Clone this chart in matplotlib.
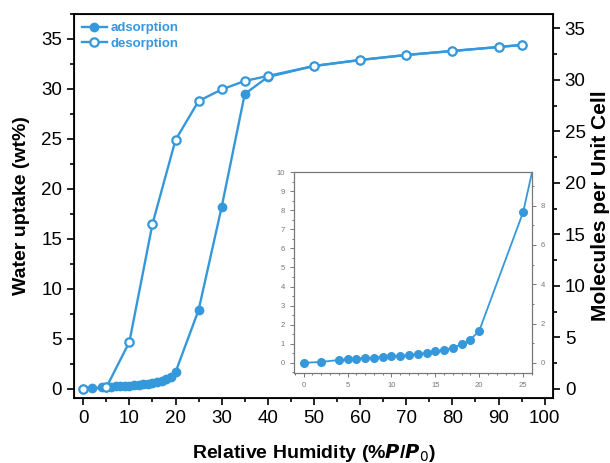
import matplotlib.pyplot as plt
import numpy as np
from matplotlib.ticker import MultipleLocator

plt.rcParams['font.family'] = ['Liberation Sans', 'DejaVu Sans']

# adsorption isotherm (wt%)
rh_ads = [0, 2, 4, 5, 6, 7, 8, 9, 10, 11, 12, 13, 14, 15, 16, 17, 18, 19, 20,
          25, 30, 35, 40, 50, 60, 70, 80, 90, 95]
wt_ads = [0.0, 0.05, 0.15, 0.18, 0.22, 0.25, 0.28, 0.31, 0.34, 0.37, 0.41, 0.46,
          0.52, 0.60, 0.68, 0.80, 0.97, 1.22, 1.68,
          7.9, 18.2, 29.5, 31.2, 32.3, 32.9, 33.4, 33.8, 34.2, 34.4]

# desorption isotherm (wt%)
rh_des = [95, 90, 80, 70, 60, 50, 40, 35, 30, 25, 20, 15, 10, 5, 0]
wt_des = [34.4, 34.2, 33.8, 33.4, 32.9, 32.3, 31.3, 30.8, 29.95, 28.8, 24.9,
          16.5, 4.7, 0.15, 0.0]

azul = '#3598DB'
wt_por_molecula = 1.03  # wt% per molecule / unit cell

fig = plt.figure(figsize=(6.1, 4.63), dpi=100)
ax = fig.add_axes([0.1213, 0.1404, 0.7853, 0.8294])

ax.plot(rh_ads, wt_ads, '-o', color=azul, lw=1.7, ms=6, label='adsorption', zorder=3)
ax.plot(rh_des, wt_des, '-o', color=azul, lw=1.7, ms=6, mfc='white', mew=1.6,
        label='desorption', zorder=4)

ax.set_xlim(-2, 101.8)
ax.set_ylim(-0.9, 37.5)
ax.xaxis.set_major_locator(MultipleLocator(10))
ax.xaxis.set_minor_locator(MultipleLocator(5))
ax.yaxis.set_major_locator(MultipleLocator(5))
ax.yaxis.set_minor_locator(MultipleLocator(2.5))
ax.tick_params(which='both', direction='out', labelsize=13.5, width=1.2, top=False, right=False)
ax.tick_params(which='major', length=5)
ax.tick_params(which='minor', length=3)
for s in ax.spines.values():
    s.set_linewidth(1.3)
ax.set_xlabel('Relative Humidity (%$\\mathbfit{P}$/$\\mathbfit{P}_0$)', fontsize=14,
              fontweight='bold', labelpad=11)
ax.set_ylabel('Water uptake (wt%)', fontsize=14, fontweight='bold', labelpad=8)

leg = ax.legend(loc='upper left', frameon=False, handlelength=1.9,
                handletextpad=0.3, borderaxespad=0.2, labelspacing=0.25,
                prop={'weight': 'bold', 'size': 9.5})
for t in leg.get_texts():
    t.set_color(azul)

# eje derecho: moleculas por celda unidad
ax2 = ax.twinx()
ax2.set_ylim(-0.9 / wt_por_molecula, 37.5 / wt_por_molecula)
ax2.yaxis.set_major_locator(MultipleLocator(5))
ax2.yaxis.set_minor_locator(MultipleLocator(2.5))
ax2.tick_params(which='both', direction='out', labelsize=13.5, width=1.2)
ax2.tick_params(which='major', length=5)
ax2.tick_params(which='minor', length=3)
ax2.set_ylabel('Molecules per Unit Cell', fontsize=15, fontweight='bold')
ax2.yaxis.set_label_coords(1.079, 0.5)

# inset: zona de baja humedad
gris = '#777777'
axi = fig.add_axes([0.482, 0.1944, 0.390, 0.4341])
axi.plot(rh_ads, wt_ads, '-o', color=azul, lw=1.3, ms=5.5)
axi.set_xlim(-1.1, 26)
axi.set_ylim(-0.53, 10)
axi.xaxis.set_major_locator(MultipleLocator(5))
axi.xaxis.set_minor_locator(MultipleLocator(1))
axi.yaxis.set_major_locator(MultipleLocator(1))
axi.yaxis.set_minor_locator(MultipleLocator(0.5))
axi.tick_params(which='both', direction='out', labelsize=5.5, colors=gris, width=0.7)
axi.tick_params(which='major', length=3)
axi.tick_params(which='minor', length=1.5)
for s in axi.spines.values():
    s.set_color(gris)
    s.set_linewidth(0.8)

axi2 = axi.twinx()
axi2.set_ylim(-0.53 / wt_por_molecula, 10 / wt_por_molecula)
axi2.yaxis.set_major_locator(MultipleLocator(2))
axi2.yaxis.set_minor_locator(MultipleLocator(1))
axi2.tick_params(which='both', direction='out', labelsize=5.5, colors=gris, width=0.7)
axi2.tick_params(which='major', length=3)
axi2.tick_params(which='minor', length=1.5)
for s in axi2.spines.values():
    s.set_color(gris)
    s.set_linewidth(0.8)

fig.savefig('out.png', dpi=100)
